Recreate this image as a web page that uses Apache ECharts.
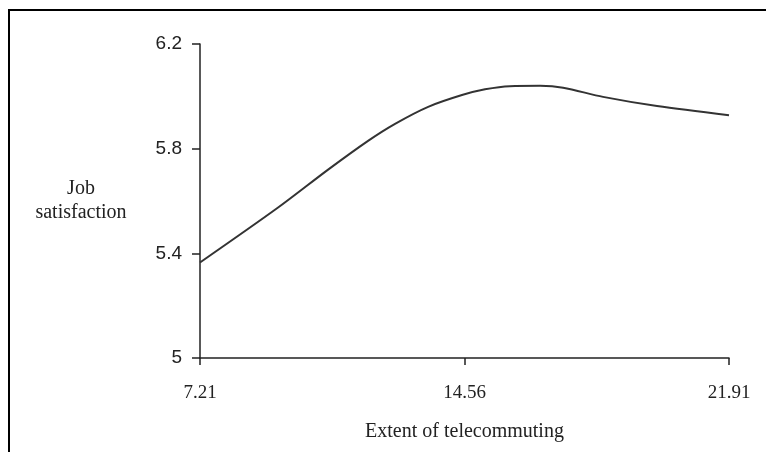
<!DOCTYPE html>
<html>
<head>
<meta charset="utf-8">
<script src="https://cdn.jsdelivr.net/npm/echarts@6/dist/echarts.min.js"></script>
<style>
html,body{margin:0;padding:0;background:#fff;}
#chart{width:766px;height:452px;}
</style>
</head>
<body>
<div id="chart"></div>
<script>
var telecommuting = [7.21, 9.38, 10.77, 11.88, 12.63, 13.55, 14.49, 15.13, 15.82, 16.66, 17.30, 18.41, 19.91, 21.91];
var satisfaction  = [5.365, 5.575, 5.72, 5.83, 5.895, 5.96, 6.005, 6.027, 6.039, 6.040, 6.033, 5.998, 5.963, 5.928];
var xTicks = [7.21, 14.56, 21.91];
var xTickLabels = ["7.21", "14.56", "21.91"];
var yTicks = [5, 5.4, 5.8, 6.2];
var yTickLabels = ["5", "5.4", "5.8", "6.2"];
var xName = "Extent of telecommuting";
var yName = "Job\nsatisfaction";

var points = telecommuting.map(function (x, i) { return [x, satisfaction[i]]; });

var chart = echarts.init(document.getElementById('chart'), null, {renderer: 'canvas'});
chart.setOption({
  backgroundColor: '#ffffff',
  animation: false,
  grid: {left: 200, right: 37, top: 44, bottom: 94},
  graphic: [
    {type: 'line', shape: {x1: 8, y1: 10, x2: 766, y2: 10}, style: {stroke: '#000', lineWidth: 2}},
    {type: 'line', shape: {x1: 9, y1: 9, x2: 9, y2: 452}, style: {stroke: '#000', lineWidth: 2}}
  ],
  xAxis: {
    type: 'value',
    min: xTicks[0],
    max: xTicks[xTicks.length - 1],
    splitLine: {show: false},
    axisLine: {lineStyle: {color: '#222', width: 1.5}},
    axisTick: {show: true, length: 7, lineStyle: {color: '#222', width: 1.5}, customValues: xTicks},
    axisLabel: {
      customValues: xTicks,
      margin: 26,
      fontFamily: 'Liberation Serif',
      fontSize: 19,
      color: '#222',
      formatter: function (v) {
        for (var i = 0; i < xTicks.length; i++) { if (Math.abs(xTicks[i] - v) < 1e-6) return xTickLabels[i]; }
        return '';
      }
    },
    name: xName,
    nameLocation: 'middle',
    nameGap: 64,
    nameTextStyle: {fontFamily: 'Liberation Serif', fontSize: 20, color: '#222'}
  },
  yAxis: {
    type: 'value',
    min: yTicks[0],
    max: yTicks[yTicks.length - 1],
    splitLine: {show: false},
    axisLine: {show: true, lineStyle: {color: '#222', width: 1.5}},
    axisTick: {show: true, length: 8, lineStyle: {color: '#222', width: 1.5}, customValues: yTicks},
    axisLabel: {
      customValues: yTicks,
      margin: 18,
      fontFamily: 'Liberation Sans',
      fontSize: 19,
      color: '#222',
      formatter: function (v) {
        for (var i = 0; i < yTicks.length; i++) { if (Math.abs(yTicks[i] - v) < 1e-6) return yTickLabels[i]; }
        return '';
      }
    },
    name: yName,
    nameLocation: 'middle',
    nameRotate: 0,
    nameGap: 119,
    nameTextStyle: {fontFamily: 'Liberation Serif', fontSize: 20, color: '#222', align: 'center', verticalAlign: 'middle', lineHeight: 24, padding: [0, 0, 9, 0]}
  },
  series: [{
    type: 'line',
    data: points,
    smooth: 0.3,
    showSymbol: false,
    lineStyle: {color: '#333', width: 2}
  }]
});
</script>
</body>
</html>
